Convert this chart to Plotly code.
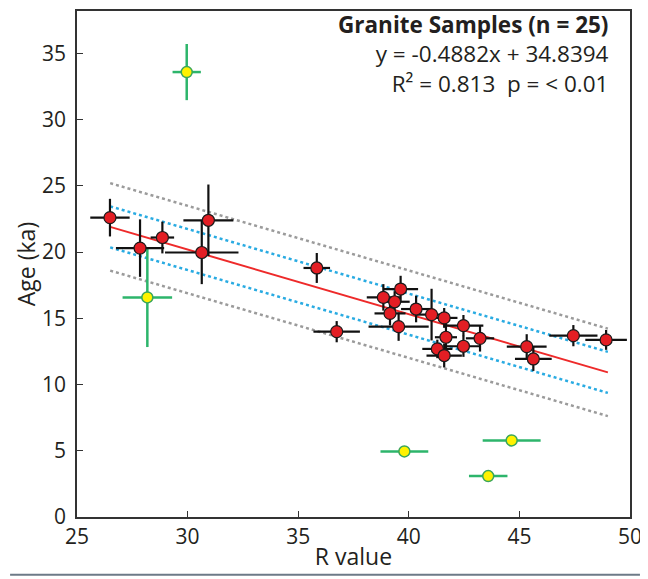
import plotly.graph_objs as go

# granite samples used for the fit (red)
r_value = [26.49, 27.85, 28.86, 30.94, 30.64, 35.84, 36.74, 38.85, 39.63, 39.36,
           39.15, 39.54, 40.33, 41.03, 41.60, 42.47, 43.22, 41.68, 42.47, 41.29,
           41.60, 45.33, 45.63, 47.44, 48.92]
age = [22.6, 20.3, 21.1, 22.4, 19.97, 18.8, 13.99, 16.58, 17.21, 16.25,
       15.37, 14.37, 15.7, 15.28, 15.03, 14.45, 13.49, 13.57, 12.89, 12.69,
       12.19, 12.86, 11.93, 13.69, 13.37]
r_err = [0.89, 1.09, 0.53, 1.13, 1.66, 0.6, 1.05, 0.75, 0.79, 0.68,
         0.7, 1.36, 0.68, 0.7, 0.6, 0.9, 0.64, 0.5, 0.75, 0.68,
         0.8, 0.9, 0.83, 1.09, 0.94]
age_err = [1.42, 2.17, 1.2, 2.7, 2.39, 1.13, 0.8, 1.0, 1.0, 0.8,
           0.9, 1.07, 1.0, 1.95, 0.75, 0.8, 1.0, 1.07, 0.8, 0.7,
           0.9, 0.94, 0.9, 0.8, 0.75]

# outliers (yellow)
out_r = [29.96, 28.18, 39.80, 44.65, 43.59]
out_age = [33.59, 16.58, 4.95, 5.78, 3.09]
out_r_err = [0.64, 1.12, 1.08, 1.31, 0.87]
out_age_err = [2.12, 3.75, 0, 0, 0]

# regression y = -0.4882x + 34.8394 and its bands
slope = -0.4882
intercept = 34.8394
fit_x = [26.5, 49.0]
band_inner = 1.55
band_outer = 3.3

stats_lines = ['<b>Granite Samples (n = 25)</b>',
               'y = -0.4882x + 34.8394',
               'R² = 0.813  p = < 0.01']

fit_y = [slope * x + intercept for x in fit_x]

fig = go.Figure()

for off, col in [(band_outer, '#9b9b9b'), (-band_outer, '#9b9b9b'),
                 (band_inner, '#29abe2'), (-band_inner, '#29abe2')]:
    fig.add_trace(go.Scatter(
        x=fit_x, y=[v + off for v in fit_y], mode='lines',
        line=dict(color=col, width=2.5, dash='dot'),
        showlegend=False, hoverinfo='skip',
    ))

fig.add_trace(go.Scatter(
    x=fit_x, y=fit_y, mode='lines',
    line=dict(color='#ee2a2a', width=2),
    showlegend=False,
))

fig.add_trace(go.Scatter(
    x=out_r, y=out_age, mode='markers',
    marker=dict(symbol='circle', size=11, color='#fff200',
                line=dict(color='#3aa65a', width=1.5)),
    error_x=dict(type='data', array=out_r_err, color='#2db56b', thickness=2.5, width=0),
    error_y=dict(type='data', array=out_age_err, color='#2db56b', thickness=2.5, width=0),
    showlegend=False,
))

fig.add_trace(go.Scatter(
    x=r_value, y=age, mode='markers',
    marker=dict(symbol='circle', size=12, color='#e31e24',
                line=dict(color='#1a1a1a', width=1.2)),
    error_x=dict(type='data', array=r_err, color='#111111', thickness=2.2, width=0),
    error_y=dict(type='data', array=age_err, color='#111111', thickness=2.2, width=0),
    showlegend=False,
))

fig.add_annotation(
    xref='paper', yref='paper', x=0.9656, y=0.915,
    xanchor='right', yanchor='middle', align='right', showarrow=False,
    text='<br>'.join(stats_lines),
    font=dict(family='Open Sans', size=22.5, color='#231f20'),
)

# separator line under the figure
fig.add_shape(type='line', xref='paper', yref='paper',
              x0=-0.121, x1=1.018, y0=-0.114, y1=-0.114,
              line=dict(color='#6d7a87', width=2))

tick_font = dict(family='Open Sans', size=21, color='#231f20')
title_font = dict(family='Open Sans', size=23, color='#231f20')

# page body has an 8px margin, so the figure starts 8px in
fig.update_layout(
    width=640, height=571,
    margin=dict(l=69, r=18, t=1, b=62),
    paper_bgcolor='white', plot_bgcolor='white',
    font=tick_font,
    xaxis=dict(range=[25, 50], dtick=5, ticks='inside', ticklen=6, tickcolor='#333',
               showline=True, linecolor='#333', linewidth=1.5, mirror=True,
               showgrid=False, zeroline=False, tickfont=tick_font,
               title=dict(text='R value', font=title_font, standoff=0)),
    yaxis=dict(range=[0, 38.2], dtick=5, ticks='inside', ticklen=6, tickcolor='#333',
               showline=True, linecolor='#333', linewidth=1.5, mirror=True,
               showgrid=False, zeroline=False, tickfont=tick_font,
               ticklabelstandoff=5,
               title=dict(text='Age (ka)', font=title_font, standoff=0)),
)

fig.write_html("out.html")
